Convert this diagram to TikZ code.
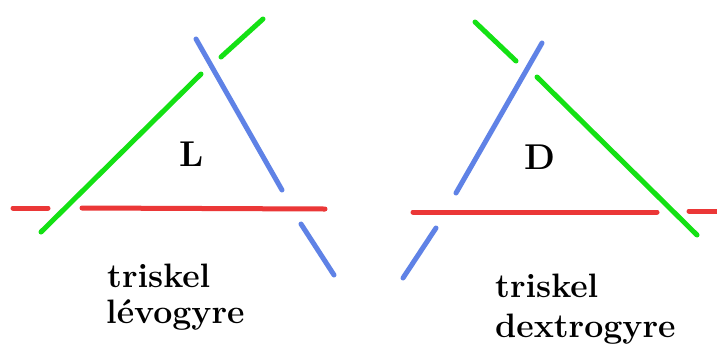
\documentclass[tikz,border=0pt]{standalone}
\definecolor{tgreen}{RGB}{20,225,20}
\definecolor{tblue}{RGB}{95,130,230}
\definecolor{tred}{RGB}{235,55,55}
\begin{document}
\begin{tikzpicture}[x=1bp,y=-1bp,
  stroke/.style={line width=5bp,line cap=round},
  lbl/.style={font=\rmfamily\bfseries\fontsize{34}{38}\selectfont,inner sep=0pt,anchor=base west},
  big/.style={font=\rmfamily\bfseries\fontsize{36}{38}\selectfont,inner sep=0pt}]
\useasboundingbox[fill=white] (0,0) rectangle (717,348);
% left triskel
\draw[stroke,tgreen] (41,232) -- (201,74);
\draw[stroke,tgreen] (221,57) -- (263,19);
\draw[stroke,tblue] (196,39) -- (282,190);
\draw[stroke,tblue] (301,224) -- (334,275);
\draw[stroke,tred] (13,208) -- (48,208);
\draw[stroke,tred] (82,208) -- (325,209);
\node[big] (L) at (192,154) {L};
\node[lbl] (t1) at (107,287) {triskel};
\node[lbl] (t2) at (106,323) {lévogyre};
% right triskel
\draw[stroke,tgreen] (475,22) -- (516,61);
\draw[stroke,tgreen] (537,77) -- (697,235);
\draw[stroke,tblue] (542,43) -- (456,193);
\draw[stroke,tblue] (436,228) -- (403,278);
\draw[stroke,tred] (413,212) -- (657,212);
\draw[stroke,tred] (689,211) -- (720,211);
\node[big] (D) at (540,157) {D};
\node[lbl] (t3) at (495,297) {triskel};
\node[lbl] (t4) at (495,337) {dextrogyre};
\end{tikzpicture}
\end{document}
